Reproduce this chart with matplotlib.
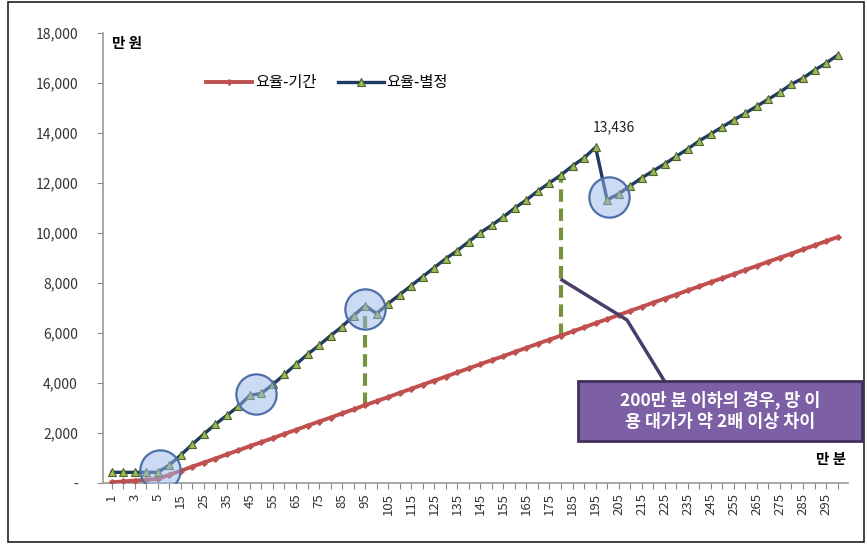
import numpy as np
import matplotlib.pyplot as plt
from matplotlib.patches import Rectangle
from matplotlib.ticker import FuncFormatter

plt.rcParams['font.family'] = ['Noto Sans CJK KR', 'DejaVu Sans']

# 만 분 (usage volume)
minutes = [1, 2, 3, 4, 5] + list(range(10, 305, 5))

# 요율-기간 (만 원)
rate_period = [30, 65, 100, 130, 165,
               330, 490, 660, 820, 980, 1150, 1310, 1480, 1640, 1800,
               1970, 2130, 2300, 2460, 2620, 2790, 2950, 3120, 3280, 3440,
               3610, 3770, 3940, 4100, 4260, 4430, 4590, 4760, 4920, 5080,
               5250, 5410, 5580, 5740, 5900, 6070, 6230, 6400, 6560, 6720,
               6890, 7050, 7220, 7380, 7540, 7710, 7870, 8040, 8200, 8360,
               8530, 8690, 8860, 9020, 9180, 9350, 9510, 9680, 9840]

# 요율-별정 (만 원)
rate_separate = [430, 430, 430, 430, 430,
                 720, 1120, 1550, 1960, 2350, 2710, 3070, 3510, 3590, 3950,
                 4350, 4750, 5150, 5510, 5900, 6260, 6700, 7100, 6780, 7180,
                 7540, 7900, 8260, 8620, 8980, 9300, 9660, 10020, 10320, 10650,
                 11010, 11330, 11690, 12010, 12330, 12690, 13010, 13436, 11330, 11570,
                 11890, 12210, 12490, 12770, 13070, 13370, 13690, 13970, 14250, 14530,
                 14800, 15080, 15360, 15640, 15960, 16200, 16520, 16800, 17120]

# highlighted spots (category position, value)
circle_x = [4.2, 12.5, 22.0, 43.2]
circle_y = [520, 3560, 6950, 11450]

# gap markers between the two series
gap_idx = [22, 39]

peak_idx = 42

x = np.arange(len(minutes))

fig = plt.figure(figsize=(8.67, 5.44), dpi=100)
ax = fig.add_axes([0.1188, 0.112, 0.8592, 0.827])

red = '#C0504D'
navy = '#1F3B63'
tri_face = '#9BBB59'
tri_edge = '#4F6228'

ax.plot(x, rate_period, color=red, lw=2.8, marker='P', ms=3.5,
        mfc=red, mec=red, label='요율-기간', zorder=3)
ax.plot(x, rate_separate, color=navy, lw=2.4, marker='^', ms=5.5,
        mfc=tri_face, mec=tri_edge, mew=0.8, label='요율-별정', zorder=4)

# dashed gap lines
for i in gap_idx:
    ax.plot([x[i], x[i]], [rate_period[i], rate_separate[i]],
            color='#77933C', lw=3, ls=(0, (3, 1.6)), zorder=2)

# translucent circles
ax.plot(circle_x, circle_y, ls='none', marker='o', ms=29,
        mfc=(0.60, 0.72, 0.92, 0.5), mec='#4F6FA8', mew=1.6, zorder=5)

ax.annotate(f'{rate_separate[peak_idx]:,}', (x[peak_idx], rate_separate[peak_idx]),
            xytext=(13, 9), textcoords='offset points', ha='center', va='bottom',
            fontsize=10, color='#222222')

ax.set_xlim(-0.75, 63.9)
ax.set_ylim(0, 18000)

ax.set_yticks(np.arange(0, 18001, 2000))
ax.yaxis.set_major_formatter(FuncFormatter(lambda v, p: '-' if v == 0 else f'{int(v):,}'))
ax.tick_params(axis='y', direction='out', length=4, color='#888888',
               labelsize=10, labelcolor='#333333', pad=14)

ax.set_xticks(x)
ax.set_xticklabels([str(m) if i % 2 == 0 else '' for i, m in enumerate(minutes)],
                   rotation=90)
ax.tick_params(axis='x', direction='out', length=4, color='#888888',
               labelsize=9.5, labelcolor='#333333')

for s in ['top', 'right']:
    ax.spines[s].set_visible(False)
for s in ['left', 'bottom']:
    ax.spines[s].set_color('#999999')
    ax.spines[s].set_linewidth(1.2)

ax.text(0.012, 0.997, '만 원', transform=ax.transAxes, fontsize=10.5,
        fontweight='bold', va='top', ha='left')
ax.text(0.997, 0.035, '만 분', transform=ax.transAxes, fontsize=10.5,
        fontweight='bold', va='bottom', ha='right')

ax.legend(loc='upper left', bbox_to_anchor=(0.12, 0.94), ncol=2, frameon=False,
          fontsize=11, handlelength=3, columnspacing=1.4, handletextpad=0.2)

# callout box and connector
fig.add_artist(plt.Line2D([562 / 867, 627 / 867, 665 / 867],
                          [1 - 280 / 544, 1 - 320 / 544, 1 - 382 / 544],
                          color='#4B3D6B', lw=2.5, zorder=6))
box = Rectangle((578 / 867, 1 - 441 / 544), 284 / 867, 60 / 544,
                transform=fig.transFigure, facecolor='#7D5FA5',
                edgecolor='#3F3159', lw=2, zorder=7)
fig.add_artist(box)
fig.text(720 / 867, 1 - 411 / 544, '200만 분 이하의 경우, 망 이\n용 대가가 약 2배 이상 차이',
         ha='center', va='center', color='white', fontsize=12.5,
         fontweight='bold', linespacing=1.25, zorder=8)

# chart border
fig.add_artist(Rectangle((8 / 867, 2 / 544), 856 / 867, 540 / 544,
                         transform=fig.transFigure, fill=False,
                         edgecolor='#222222', lw=1.2))

fig.savefig('out.png', dpi=100)
